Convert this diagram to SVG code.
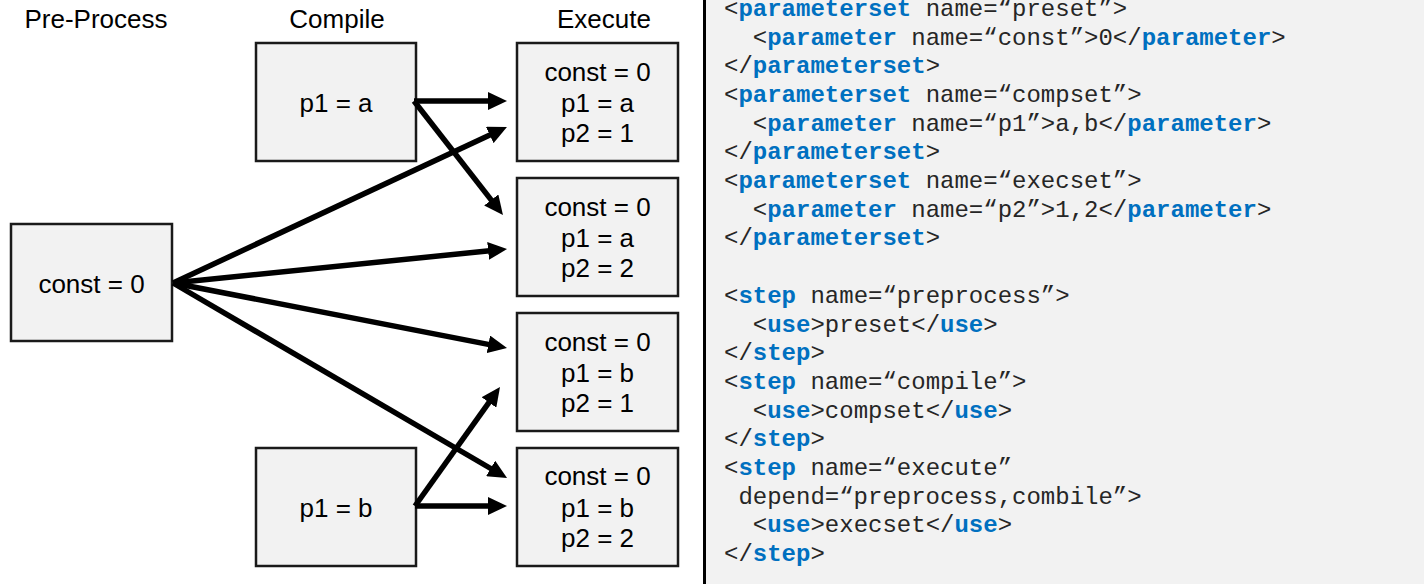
<svg xmlns="http://www.w3.org/2000/svg" width="1424" height="584" viewBox="0 0 1424 584">
<style>
.box{fill:#f2f2f2;stroke:#1a1a1a;stroke-width:2.5}
.lbl{font-family:"Liberation Sans",Arial,sans-serif;font-size:26px;fill:#000;text-anchor:middle}
.hdr{font-family:"Liberation Sans",Arial,sans-serif;font-size:26px;fill:#000;text-anchor:middle}
.code{font-family:"Liberation Mono","Courier New",monospace;font-size:24px;fill:#262626}
.kw{fill:#0070c0;font-weight:bold}
.arr{stroke:#000;stroke-width:5.5;fill:none;marker-end:url(#ah)}
</style>
<defs>
<marker id="ah" markerUnits="userSpaceOnUse" markerWidth="19" markerHeight="18" refX="9" refY="9" orient="auto">
<path d="M0,0 L19,9 L0,18 z" fill="#000"/>
</marker>
</defs>
<rect width="1424" height="584" fill="#fff"/>
<rect x="705" y="0" width="719" height="584" fill="#f2f2f2"/>
<line x1="704.5" y1="0" x2="704.5" y2="584" stroke="#000" stroke-width="3"/>

<g id="headers">
<text class="hdr" x="96" y="28">Pre-Process</text>
<text class="hdr" x="337" y="28">Compile</text>
<text class="hdr" x="604" y="28">Execute</text>
</g>

<g id="pre">
<rect class="box" x="11" y="224" width="161" height="117"/>
<text class="lbl" x="91.5" y="293">const = 0</text>
</g>
<g id="comp-a">
<rect class="box" x="256" y="43" width="160" height="118"/>
<text class="lbl" x="336" y="112">p1 = a</text>
</g>
<g id="comp-b">
<rect class="box" x="256" y="448" width="160" height="118"/>
<text class="lbl" x="336" y="517">p1 = b</text>
</g>
<g id="exec-a1">
<rect class="box" x="517" y="43" width="161" height="118"/>
<text class="lbl" x="597.5" y="81">const = 0</text>
<text class="lbl" x="597.5" y="112">p1 = a</text>
<text class="lbl" x="597.5" y="142">p2 = 1</text>
</g>
<g id="exec-a2">
<rect class="box" x="517" y="178" width="161" height="118"/>
<text class="lbl" x="597.5" y="216">const = 0</text>
<text class="lbl" x="597.5" y="247">p1 = a</text>
<text class="lbl" x="597.5" y="277">p2 = 2</text>
</g>
<g id="exec-b1">
<rect class="box" x="517" y="313" width="161" height="118"/>
<text class="lbl" x="597.5" y="351">const = 0</text>
<text class="lbl" x="597.5" y="382">p1 = b</text>
<text class="lbl" x="597.5" y="412">p2 = 1</text>
</g>
<g id="exec-b2">
<rect class="box" x="517" y="448" width="161" height="118"/>
<text class="lbl" x="597.5" y="485">const = 0</text>
<text class="lbl" x="597.5" y="517">p1 = b</text>
<text class="lbl" x="597.5" y="547">p2 = 2</text>
</g>

<g id="connectors">
<line class="arr" x1="414" y1="101" x2="497" y2="101"/>
<line class="arr" x1="414" y1="101" x2="496.8" y2="207.1"/>
<line class="arr" x1="173" y1="283" x2="497.9" y2="131.2"/>
<line class="arr" x1="173" y1="283" x2="497.1" y2="250"/>
<line class="arr" x1="173" y1="283" x2="497.2" y2="346.1"/>
<line class="arr" x1="173" y1="283" x2="498.4" y2="473"/>
<line class="arr" x1="415" y1="506" x2="497" y2="506"/>
<line class="arr" x1="415" y1="506" x2="494.2" y2="395.1"/>
</g>

<g id="code" class="code" xml:space="preserve">
<text x="724" y="16">&lt;<tspan class="kw">parameterset</tspan> name=“preset”&gt;</text>
<text x="752.8" y="44.5">&lt;<tspan class="kw">parameter</tspan> name=“const”&gt;0&lt;/<tspan class="kw">parameter</tspan>&gt;</text>
<text x="724" y="73.2">&lt;/<tspan class="kw">parameterset</tspan>&gt;</text>
<text x="724" y="101.9">&lt;<tspan class="kw">parameterset</tspan> name=“compset”&gt;</text>
<text x="752.8" y="130.6">&lt;<tspan class="kw">parameter</tspan> name=“p1”&gt;a,b&lt;/<tspan class="kw">parameter</tspan>&gt;</text>
<text x="724" y="159.3">&lt;/<tspan class="kw">parameterset</tspan>&gt;</text>
<text x="724" y="188">&lt;<tspan class="kw">parameterset</tspan> name=“execset”&gt;</text>
<text x="752.8" y="216.7">&lt;<tspan class="kw">parameter</tspan> name=“p2”&gt;1,2&lt;/<tspan class="kw">parameter</tspan>&gt;</text>
<text x="724" y="245.4">&lt;/<tspan class="kw">parameterset</tspan>&gt;</text>
<text x="724" y="302.8">&lt;<tspan class="kw">step</tspan> name=“preprocess”&gt;</text>
<text x="752.8" y="331.5">&lt;<tspan class="kw">use</tspan>&gt;preset&lt;/<tspan class="kw">use</tspan>&gt;</text>
<text x="724" y="360.2">&lt;/<tspan class="kw">step</tspan>&gt;</text>
<text x="724" y="388.9">&lt;<tspan class="kw">step</tspan> name=“compile”&gt;</text>
<text x="752.8" y="417.6">&lt;<tspan class="kw">use</tspan>&gt;compset&lt;/<tspan class="kw">use</tspan>&gt;</text>
<text x="724" y="446.3">&lt;/<tspan class="kw">step</tspan>&gt;</text>
<text x="724" y="475">&lt;<tspan class="kw">step</tspan> name=“execute”</text>
<text x="738.4" y="503.7">depend=“preprocess,combile”&gt;</text>
<text x="752.8" y="532.4">&lt;<tspan class="kw">use</tspan>&gt;execset&lt;/<tspan class="kw">use</tspan>&gt;</text>
<text x="724" y="561.1">&lt;/<tspan class="kw">step</tspan>&gt;</text>
</g>
</svg>
